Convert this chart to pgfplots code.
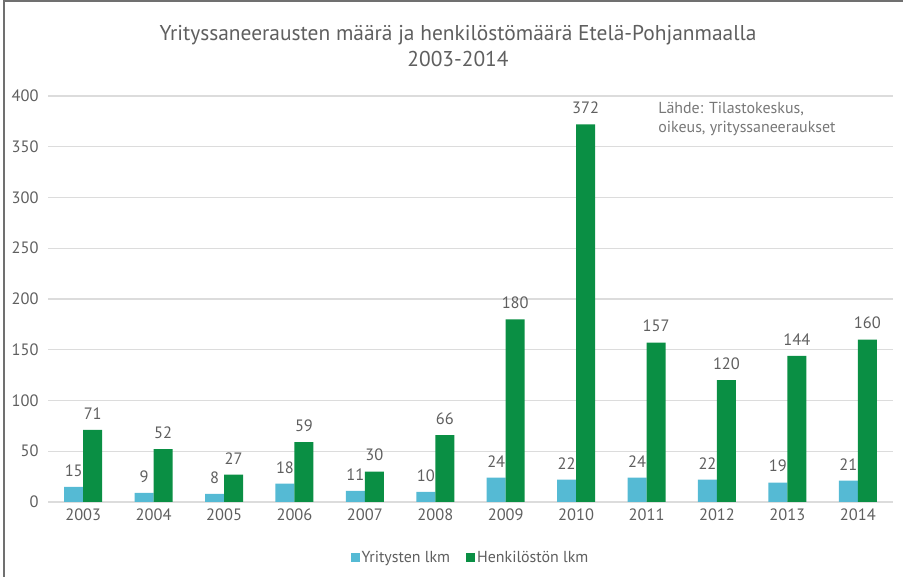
\documentclass[border=0pt]{standalone}
\usepackage{pgfplots}
\pgfplotsset{compat=1.18}
\usepackage{fontspec}
\setmainfont{PT Sans}
\definecolor{txt}{HTML}{5F5F5F}
\definecolor{cblue}{HTML}{55BAD4}
\definecolor{cgreen}{HTML}{0A8F44}
\definecolor{gridc}{HTML}{DCDCDC}
\definecolor{framec}{HTML}{707070}
\begin{document}
\begin{tikzpicture}[x=1bp,y=1bp]
\path[use as bounding box] (0,0) rectangle (903,577);
\draw[framec, line width=1.5bp] (4,0) -- (4,576) -- (903,576);
\node[txt, font=\fontsize{21.5}{26}\selectfont, align=center] at (458,531) {Yrityssaneerausten määrä ja henkilöstömäärä Etelä-Pohjanmaalla\\2003-2014};
\begin{axis}[
  at={(48bp,75bp)}, anchor=south west,
  scale only axis, width=845bp, height=406bp,
  xmin=-0.5, xmax=11.5, ymin=0, ymax=400,
  ytick={0,50,...,400},
  xtick={0,...,11},
  xticklabels={2003,2004,2005,2006,2007,2008,2009,2010,2011,2012,2013,2014},
  axis line style={draw=none},
  major tick length=0pt,
  ymajorgrids, xmajorgrids=false,
  grid style={draw=gridc, line width=1.2bp},
  /pgf/number format/assume math mode=true,
  tick label style={txt, font=\fontsize{16.5}{19}\selectfont},
  yticklabel style={xshift=-6bp},
  xticklabel style={yshift=-3bp},
  ybar, bar width=19bp,
  nodes near coords,
  nodes near coords style={txt, font=\fontsize{16.5}{19}\selectfont, yshift=7bp},
  legend style={at={(0.5,-0.138)}, anchor=center, draw=none, legend columns=2,
    font=\fontsize{16}{19}\selectfont, text=txt,
    /tikz/every even column/.append style={column sep=14bp}},
  legend image code/.code={\fill[#1] (0bp,-4bp) rectangle (9bp,5bp);},
  clip=false,
]
\addplot[fill=cblue, draw=none, bar shift=-9.5bp] coordinates {(0,15)(1,9)(2,8)(3,18)(4,11)(5,10)(6,24)(7,22)(8,24)(9,22)(10,19)(11,21)};
\addplot[fill=cgreen, draw=none, bar shift=9.5bp] coordinates {(0,71)(1,52)(2,27)(3,59)(4,30)(5,66)(6,180)(7,372)(8,157)(9,120)(10,144)(11,160)};
\legend{Yritysten lkm, Henkilöstön lkm}
\node[txt!85, anchor=north west, align=left, font=\fontsize{16}{19}\selectfont, inner sep=0pt] at (rel axis cs:0.722,0.985) {Lähde: Tilastokeskus,\\oikeus, yrityssaneeraukset};
\end{axis}
\end{tikzpicture}
\end{document}
